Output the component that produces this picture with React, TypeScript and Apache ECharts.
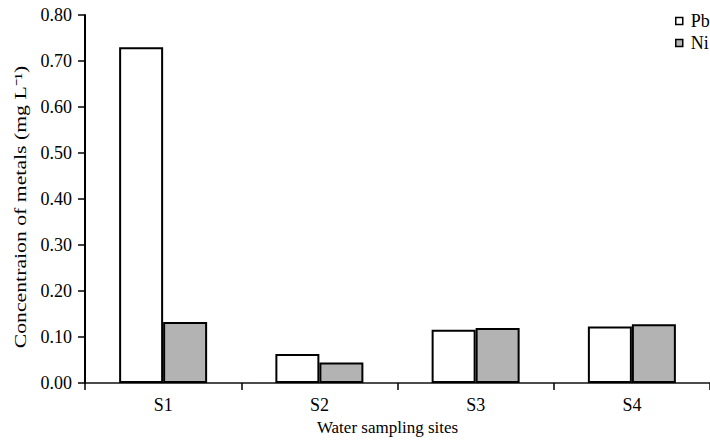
import React, { useEffect, useRef } from "react";
import * as echarts from "echarts";

const categories = ["S1", "S2", "S3", "S4"];
const pbValues = [0.73, 0.063, 0.116, 0.123];
const niValues = [0.133, 0.045, 0.12, 0.128];
const yTicks = { min: 0, max: 0.8, interval: 0.1 };
const seriesNames = ["Pb", "Ni"];

const FONT = "Liberation Serif";

export default function App() {
  const ref = useRef<HTMLDivElement>(null);
  useEffect(() => {
    if (!ref.current) return;
    const chart = echarts.init(ref.current, null, { renderer: "svg" });
    chart.setOption({
      animation: false,
      backgroundColor: "#fff",
      textStyle: { fontFamily: FONT },
      grid: { left: 85, right: -3, top: 15, bottom: 56, containLabel: false },
      legend: {
        orient: "vertical",
        left: 675,
        top: 12,
        padding: 0,
        itemWidth: 7,
        itemHeight: 7,
        itemGap: 4,
        icon: "rect",
        itemStyle: { borderColor: "#000", borderWidth: 1.5 },
        textStyle: { fontFamily: FONT, fontSize: 18, color: "#000", padding: [0, 0, 0, 3] },
        data: seriesNames,
      },
      xAxis: {
        type: "category",
        data: categories,
        boundaryGap: true,
        name: "Water sampling sites",
        nameLocation: "middle",
        nameGap: 20,
        nameTextStyle: { fontFamily: FONT, fontSize: 17, color: "#000", padding: [0, 20, 0, 0] },
        axisLine: { lineStyle: { color: "#111", width: 1.5 } },
        axisTick: { show: true, length: 7, lineStyle: { color: "#000", width: 1.5 } },
        axisLabel: { fontFamily: FONT, fontSize: 18, color: "#000", margin: 13 },
        splitLine: { show: false },
      },
      yAxis: {
        type: "value",
        min: yTicks.min,
        max: yTicks.max,
        interval: yTicks.interval,
        axisLine: { show: true, lineStyle: { color: "#000", width: 2 } },
        axisTick: { show: true, length: 7, lineStyle: { color: "#000", width: 1.5 } },
        axisLabel: {
          fontFamily: FONT,
          fontSize: 18,
          color: "#000",
          margin: 13,
          formatter: (v: number) => v.toFixed(2),
        },
        splitLine: { show: false },
      },
      graphic: [
        {
          type: "text",
          x: 21,
          y: 207,
          rotation: Math.PI / 2,
          scaleX: 1.36,
          style: {
            text: "Concentraion of metals (mg L⁻¹)",
            fontFamily: FONT,
            fontSize: 16,
            fill: "#000",
            textAlign: "center",
            textVerticalAlign: "middle",
          },
        },
      ],
      series: [
        {
          name: seriesNames[0],
          type: "bar",
          data: pbValues,
          barWidth: 44,
          barGap: "0%",
          itemStyle: { color: "#fff", borderColor: "#000", borderWidth: 2 },
        },
        {
          name: seriesNames[1],
          type: "bar",
          data: niValues,
          barWidth: 44,
          barGap: "0%",
          itemStyle: { color: "#b3b3b3", borderColor: "#000", borderWidth: 2 },
        },
      ],
    });
    return () => chart.dispose();
  }, []);
  return (
    <div
      ref={ref}
      style={{ position: "absolute", left: 0, top: 0, width: 710, height: 441, overflow: "hidden" }}
    />
  );
}
